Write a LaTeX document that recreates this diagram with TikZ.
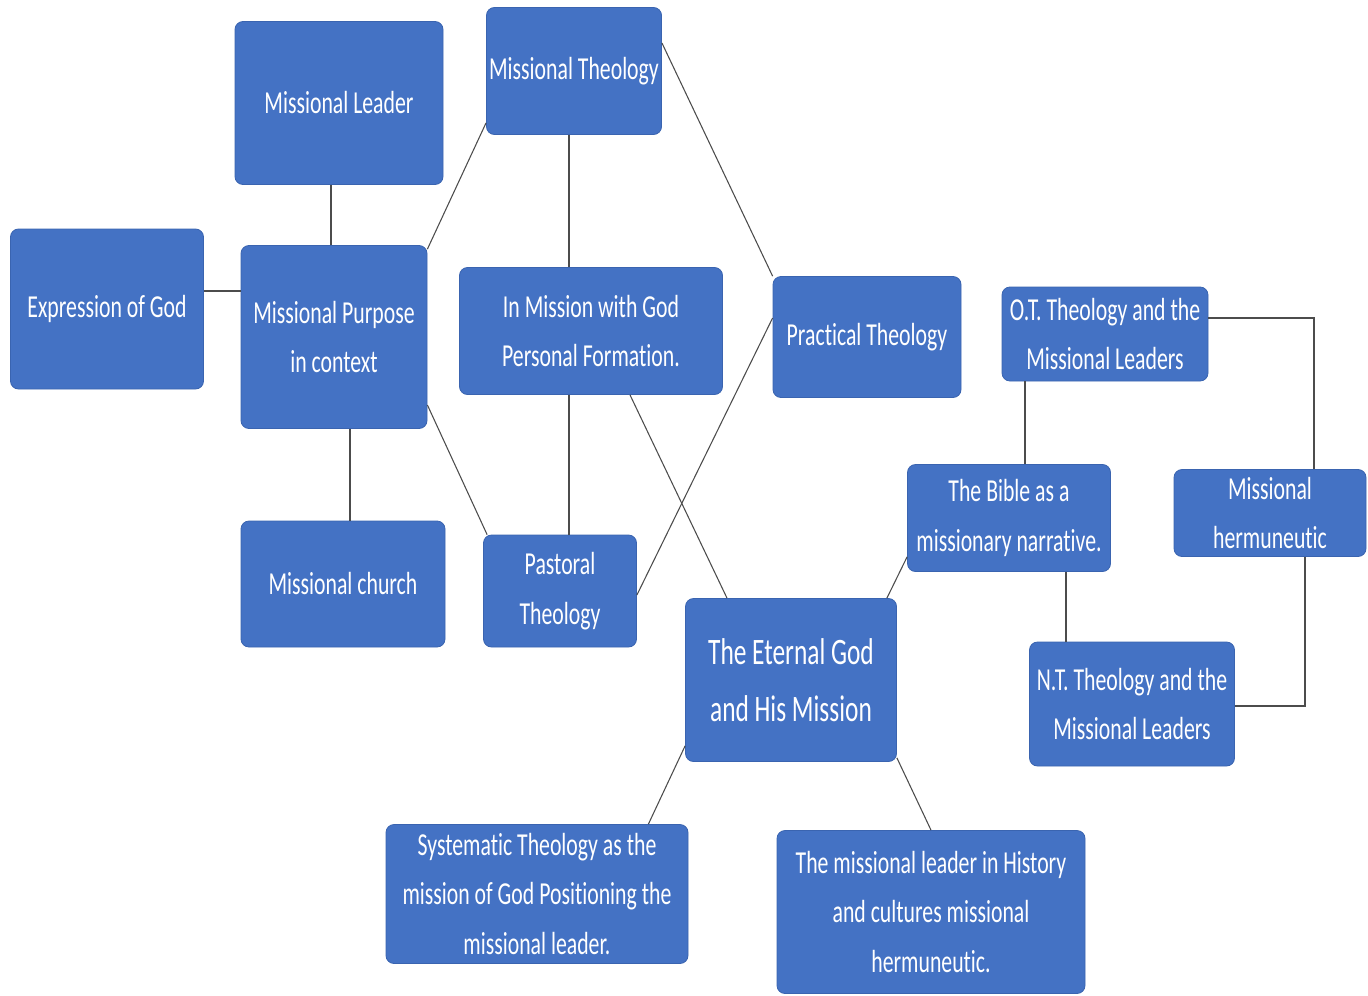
\documentclass[tikz,border=0pt]{standalone}
\usepackage{fontspec}
\setmainfont{Carlito}[FakeStretch=0.68, Ligatures=NoCommon]
\usetikzlibrary{calc}
\definecolor{boxblue}{HTML}{4472C4}
\definecolor{boxline}{HTML}{3A64B0}
\tikzset{mission edge/.style={draw=black!70, line width=0.8pt}}
\tikzset{mission box/.style={draw=boxline, fill=boxblue, rounded corners=6pt, line width=0.6pt, align=center, text=white, inner sep=2pt, font=\fontsize{24}{37}\selectfont}}
\tikzset{mission big/.style={mission box, font=\fontsize{28}{43}\selectfont}}
\tikzset{box size/.style 2 args={minimum width=#1*0.75pt, minimum height=#2*0.75pt}}

\begin{document}
\begin{tikzpicture}[x=0.75pt,y=-0.75pt]
		\useasboundingbox (0,0) rectangle (1368,996);
		\node[mission box, box size={208}{163}] (lead) at (339,103) {Missional Leader};
		\node[mission box, box size={172}{127}] (mtheo) at (574,71) {Missional Theology};
		\node[mission box, box size={193}{160}] (expr) at (107,309) {Expression of God};
		\node[mission box, box size={186}{183}] (purp) at (334,337) {Missional Purpose\\in context};
		\node[mission box, box size={263}{127}] (inmis) at (591,331) {In Mission with God\\Personal Formation.};
		\node[mission box, box size={188}{121}] (pract) at (867,337) {Practical Theology};
		\node[mission box, box size={206}{94}] (ot) at (1105,334) {O.T. Theology and the\\Missional Leaders};
		\node[mission box, box size={203}{107}] (bible) at (1009,518) {The Bible as a\\missionary narrative.};
		\node[mission box, box size={192}{87}] (herm) at (1270,513) {Missional\\hermuneutic};
		\node[mission box, box size={204}{126}] (church) at (343,584) {Missional church};
		\node[mission box, box size={153}{112}] (past) at (560,591) {Pastoral\\Theology};
		\node[mission big, box size={211}{163}] (eter) at (791,680) {The Eternal God\\and His Mission};
		\node[mission box, box size={205}{124}] (nt) at (1132,704) {N.T. Theology and the\\Missional Leaders};
		\node[mission box, box size={302}{139}] (syst) at (537,894) {Systematic Theology as the\\mission of God\ Positioning the\\missional leader.};
		\node[mission box, box size={308}{163}] (hist) at (931,912) {The missional leader in History\\and cultures missional\\hermuneutic.};

		% left cluster
		\draw[mission edge] ($(lead.south)+(-8,0)$) -- ($(purp.north)+(-3,0)$);
		\draw[mission edge] ($(expr.east)+(0,-18)$) -- ($(purp.west)+(0,-46)$);
		\draw[mission edge] ($(purp.north east)+(0,4)$) -- ($(mtheo.south west)+(0,-12)$);
		\draw[mission edge] ($(purp.south)+(16,0)$) -- ($(church.north)+(7,0)$);
		\draw[mission edge] ($(purp.east)+(0,68)$) -- ($(past.north west)+(4,0)$);

		% middle
		\draw[mission edge] ($(mtheo.south)+(-5,0)$) -- ($(inmis.north)+(-22,0)$);
		\draw[mission edge] ($(inmis.south)+(-22,0)$) -- ($(past.north)+(9,0)$);
		\draw[mission edge] ($(mtheo.east)+(0,-28)$) -- (pract.north west);
		\draw[mission edge] ($(pract.west)+(0,-19)$) -- ($(past.east)+(0,4)$);
		\draw[mission edge] ($(inmis.south)+(39,0)$) -- ($(eter.north)+(-64,0)$);

		% right cluster
		\draw[mission edge] ($(eter.north east)+(-10,0)$) -- ($(bible.south west)+(0,-15)$);
		\draw[mission edge] ($(ot.south)+(-80,0)$) -- ($(bible.north)+(16,0)$);
		\draw[mission edge] ($(bible.south)+(57,0)$) -- ($(nt.north)+(-66,0)$);
		\draw[mission edge] ($(ot.east)+(0,-16)$) -| ($(herm.north)+(44,0)$);
		\draw[mission edge] ($(herm.south)+(35,0)$) |- ($(nt.east)+(0,2)$);

		% bottom
		\draw[mission edge] ($(eter.south west)+(0,-16)$) -- ($(syst.north east)+(-40,0)$);
		\draw[mission edge] ($(eter.south east)+(0,-4)$) -- (hist.north);
	\end{tikzpicture}
\end{document}
